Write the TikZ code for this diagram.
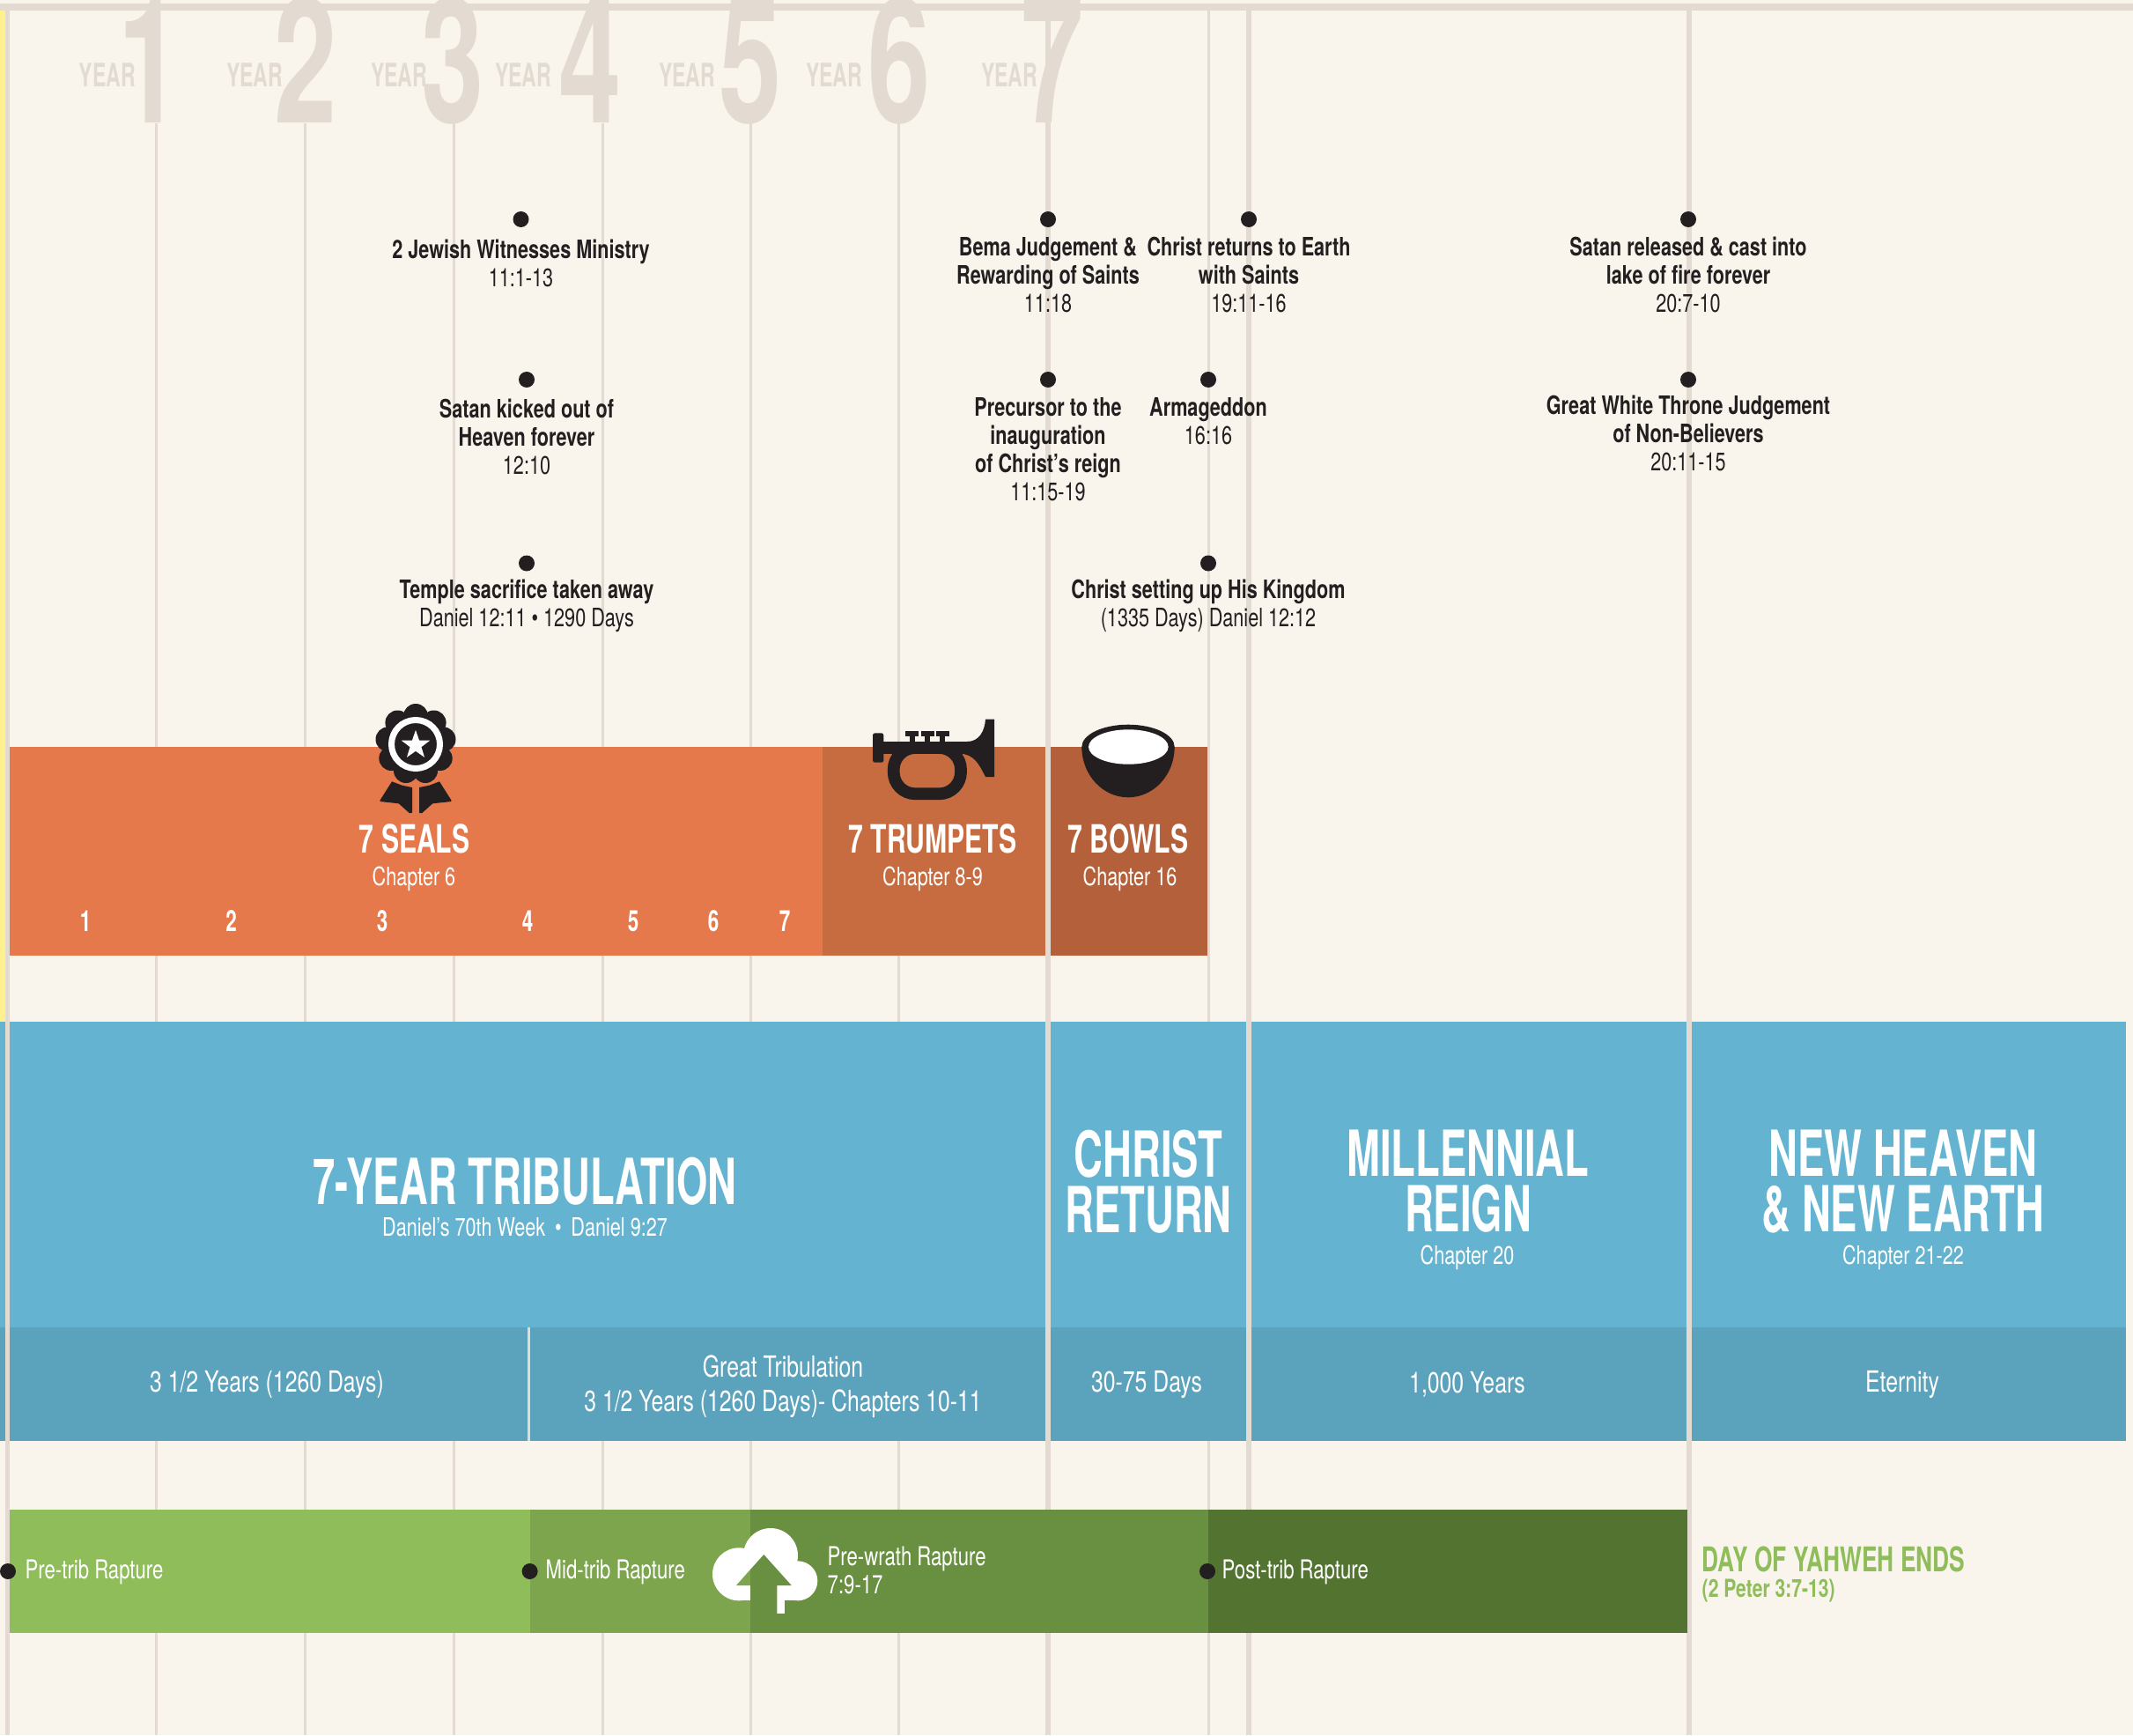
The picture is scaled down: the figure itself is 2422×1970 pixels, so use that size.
\documentclass[tikz,border=0pt]{standalone}
\usepackage{fontspec}
\setmainfont[FakeStretch=0.75]{TeX Gyre Heros}
\newfontfamily\bignum[FakeStretch=0.65]{TeX Gyre Heros}
\newfontfamily\condbig[FakeStretch=0.63]{TeX Gyre Heros}
\newfontfamily\condmid[FakeStretch=0.68]{TeX Gyre Heros}
\usetikzlibrary{shapes.geometric}

\definecolor{paper}{HTML}{F9F5ED}
\definecolor{rule}{HTML}{E3DBD1}
\definecolor{ink}{HTML}{231F20}
\definecolor{sunny}{HTML}{FFF18F}
\definecolor{sealorange}{HTML}{E5794C}
\definecolor{trumporange}{HTML}{C76C40}
\definecolor{bowlorange}{HTML}{B4603A}
\definecolor{skyblue}{HTML}{64B3D1}
\definecolor{deepblue}{HTML}{5BA2BC}
\definecolor{greenA}{HTML}{8FBD5A}
\definecolor{greenB}{HTML}{7CA54D}
\definecolor{greenC}{HTML}{698F40}
\definecolor{greenD}{HTML}{537430}

\tikzset{
    yearword/.style={text=rule, inner sep=0pt, font=\fontsize{10.4}{12}\condbig\bfseries},
    yearnum/.style={text=rule, inner sep=0pt, anchor=base, font=\fontsize{56}{60}\bignum\bfseries},
    thinline/.style={rule, line width=3*0.2845pt},
    thickline/.style={rule, line width=5.5*0.2845pt},
    evdot/.style={circle, fill=ink, inner sep=0pt, minimum size=18*0.2845pt},
    evtext/.style={text=ink, anchor=north, align=center, inner sep=0pt,
        font=\fontsize{8.2}{9.1}\selectfont},
    bartitle/.style={text=white, inner sep=0pt, font=\fontsize{12.6}{14}\condmid\bfseries},
    barsub/.style={text=white, inner sep=0pt, font=\fontsize{8.2}{9.1}\selectfont},
    sealnum/.style={text=white, inner sep=0pt, font=\fontsize{9.4}{10}\condmid\bfseries},
    bigtitle/.style={text=white, inner sep=0pt, align=center, font=\fontsize{20.5}{17.9}\condbig\bfseries},
    rowtext/.style={text=white, inner sep=0pt, align=center, font=\fontsize{9.4}{11.1}\selectfont},
    raptext/.style={text=white, inner sep=0pt, anchor=west, align=left, font=\fontsize{8.4}{9.3}\selectfont}
}

\begin{document}
\begin{tikzpicture}[x=0.01cm, y=-0.01cm]
            \useasboundingbox (0, 0) rectangle (2422, 1970);
            \fill[paper] (0, 0) rectangle (2422, 1970);
            \fill[sunny] (0, 12) rectangle (6, 1160);

            % Year words and numerals
            \node (W1) at (122, 85) [yearword] {YEAR};
            \node (W2) at (289, 85) [yearword] {YEAR};
            \node (W3) at (453, 85) [yearword] {YEAR};
            \node (W4) at (594, 85) [yearword] {YEAR};
            \node (W5) at (780, 85) [yearword] {YEAR};
            \node (W6) at (947, 85) [yearword] {YEAR};
            \node (W7) at (1146, 85) [yearword] {YEAR};
            \node (N1) at (170, 140) [yearnum] {1};
            \node (N2) at (347, 140) [yearnum] {2};
            \node (N3) at (514, 140) [yearnum] {3};
            \node (N4) at (670, 140) [yearnum] {4};
            \node (N5) at (852, 140) [yearnum] {5};
            \node (N6) at (1021, 140) [yearnum] {6};
            \node (N7) at (1195, 140) [yearnum] {7};

            % Year lines
            \draw[thinline] (177.5, 140) -- (177.5, 1970);
            \draw[thinline] (346, 140) -- (346, 1970);
            \draw[thinline] (515, 140) -- (515, 1970);
            \draw[thinline] (684, 140) -- (684, 1970);
            \draw[thinline] (852.5, 140) -- (852.5, 1970);
            \draw[thinline] (1020, 140) -- (1020, 1970);
            \draw[thinline] (1372, 12) -- (1372, 1970);

            % Top rule
            \fill[rule] (0, 4) rectangle (2422, 12);

            % Events on the left
            \node (E1) at (591.5, 249) [evdot] {};
            \node (T1) at (591.5, 271.5) [evtext] {\textbf{2 Jewish Witnesses Ministry}\\11:1-13};
            \node (E2) at (598, 431) [evdot] {};
            \node (T2) at (598, 452.5) [evtext] {\textbf{Satan kicked out of}\\\textbf{Heaven forever}\\12:10};
            \node (E3) at (598, 639.5) [evdot] {};
            \node (T3) at (598, 657.5) [evtext] {\textbf{Temple sacrifice taken away}\\Daniel 12:11 • 1290 Days};

            % Bars of seals, trumpets and bowls
            \fill[sealorange] (11, 848) rectangle (934, 1085);
            \fill[trumporange] (934, 848) rectangle (1187, 1085);
            \fill[bowlorange] (1193, 848) rectangle (1371, 1085);

            % Blue blocks
            \fill[skyblue] (0, 1160) rectangle (2414, 1507);
            \fill[deepblue] (0, 1507) rectangle (2414, 1636);

            % Thick lines
            \draw[thickline] (8.7, 12) -- (8.7, 1970);
            \draw[thickline, line width=6*0.2845pt] (1190, 12) -- (1190, 1714);
            \draw[thickline] (1190, 1854) -- (1190, 1970);
            \draw[thickline] (1418, 12) -- (1418, 1714);
            \draw[thickline] (1418, 1854) -- (1418, 1970);
            \draw[thickline] (1918, 12) -- (1918, 1970);
            \draw[thinline] (600, 1507) -- (600, 1636);

            % Events on the right
            \node (E4) at (1190, 249) [evdot] {};
            \node (T4) at (1190, 268.5) [evtext] {\textbf{Bema Judgement \&}\\\textbf{Rewarding of Saints}\\11:18};
            \node (E5) at (1418, 249) [evdot] {};
            \node (T5) at (1418, 268.5) [evtext] {\textbf{Christ returns to Earth}\\\textbf{with Saints}\\19:11-16};
            \node (E6) at (1190, 431) [evdot] {};
            \node (T6) at (1190, 451) [evtext] {\textbf{Precursor to the}\\\textbf{inauguration}\\\textbf{of Christ’s reign}\\11:15-19};
            \node (E7) at (1372, 431) [evdot] {};
            \node (T7) at (1372, 451) [evtext] {\textbf{Armageddon}\\16:16};
            \node (E8) at (1372, 639.5) [evdot] {};
            \node (T8) at (1372, 657.5) [evtext] {\textbf{Christ setting up His Kingdom}\\(1335 Days) Daniel 12:12};
            \node (E9) at (1917, 249) [evdot] {};
            \node (T9) at (1917, 268.5) [evtext] {\textbf{Satan released \& cast into}\\\textbf{lake of fire forever}\\20:7-10};
            \node (E10) at (1917, 431) [evdot] {};
            \node (T10) at (1917, 448.5) [evtext] {\textbf{Great White Throne Judgement}\\\textbf{of Non-Believers}\\20:11-15};

            % Seal icon
            \fill[ink] (472, 845) circle (34);
            \fill[ink] (472, 813) circle (14);
            \fill[ink] (492.6, 820.5) circle (14);
            \fill[ink] (503.5, 839.4) circle (14);
            \fill[ink] (499.7, 861) circle (14);
            \fill[ink] (483, 875) circle (14);
            \fill[ink] (461, 875) circle (14);
            \fill[ink] (444.3, 861) circle (14);
            \fill[ink] (440.5, 839.4) circle (14);
            \fill[ink] (451.4, 820.5) circle (14);
            \draw[white, line width=7*0.2845pt] (472, 845) circle (27.5);
            \node (S0) at (472, 846) [star, star points=5, star point ratio=2.5, fill=white, inner sep=0pt, minimum size=34*0.2845pt] {};
            \fill[ink] (431.7, 908.3) -- (445, 887.3) -- (456.5, 891.7) -- (468, 894) -- (468, 922.7) -- (465, 923.3) -- (452.7, 912.3) -- (431.7, 910) -- cycle;
            \fill[ink] (512.3, 908.3) -- (499, 887.3) -- (487.5, 891.7) -- (476, 894) -- (476, 922.7) -- (479, 923.3) -- (491.3, 912.3) -- (512.3, 910) -- cycle;

            % Trumpet icon
            \fill[ink, rounded corners=0.7pt] (991, 832.3) rectangle (1003.3, 865.7);
            \fill[ink] (1003, 842) rectangle (1100, 855.7);
            \fill[ink] (1028, 830) rectangle (1043.3, 835.7);
            \fill[ink] (1046, 830) rectangle (1061.3, 835.7);
            \fill[ink] (1062.7, 830) rectangle (1078, 835.7);
            \fill[ink] (1032.7, 835) rectangle (1038.7, 843);
            \fill[ink] (1050, 835) rectangle (1056, 843);
            \fill[ink] (1066.7, 835) rectangle (1072.7, 843);
            \fill[ink] (1098, 842) .. controls (1112, 842) and (1118, 830) .. (1119, 816.7) -- (1129, 816.7) -- (1129, 882) -- (1119, 882) .. controls (1112, 868) and (1106, 856) .. (1090, 855.7) -- cycle;
            \draw[ink, line width=13.7*0.2845pt, rounded corners=7pt] (1014.7, 849) rectangle (1091, 901.3);

            % Bowl icon
            \fill[ink] (1228.3, 848) arc[start angle=180, end angle=0, x radius=52.7, y radius=57.3] -- cycle;
            \fill[ink] (1281, 848) ellipse [x radius=52.7, y radius=25.3];
            \fill[white] (1281.3, 848) ellipse [x radius=45.3, y radius=19.7];

            % Bar labels
            \node (L1) at (470.7, 952) [bartitle] {7 SEALS};
            \node (C1) at (470, 998) [barsub] {Chapter 6};
            \node (L2) at (1059, 952) [bartitle] {7 TRUMPETS};
            \node (C2) at (1059, 998) [barsub] {Chapter 8-9};
            \node (L3) at (1281, 952) [bartitle] {7 BOWLS};
            \node (C3) at (1283, 998) [barsub] {Chapter 16};
            \node (M1) at (97, 1046) [sealnum] {1};
            \node (M2) at (262.6, 1046) [sealnum] {2};
            \node (M3) at (434, 1046) [sealnum] {3};
            \node (M4) at (599, 1046) [sealnum] {4};
            \node (M5) at (719, 1046) [sealnum] {5};
            \node (M6) at (810, 1046) [sealnum] {6};
            \node (M7) at (891, 1046) [sealnum] {7};

            % Blue labels
            \node (B1) at (596, 1341) [bigtitle] {7-YEAR TRIBULATION};
            \node (B1s) at (596, 1393) [barsub] {Daniel’s 70th Week \,•\, Daniel 9:27};
            \node (B2) at (1304, 1341.5) [bigtitle] {CHRIST\\RETURN};
            \node (B3) at (1667, 1341.5) [bigtitle] {MILLENNIAL\\REIGN};
            \node (B3s) at (1666, 1428) [barsub] {Chapter 20};
            \node (B4) at (2161, 1341.5) [bigtitle] {NEW HEAVEN\\\& NEW EARTH};
            \node (B4s) at (2161, 1428) [barsub] {Chapter 21-22};

            % Dark blue row
            \node (R1) at (303, 1572) [rowtext] {3 1/2 Years (1260 Days)};
            \node (R2) at (889, 1574) [rowtext] {Great Tribulation\\3 1/2 Years (1260 Days)- Chapters 10-11};
            \node (R3) at (1302, 1572) [rowtext] {30-75 Days};
            \node (R4) at (1666, 1572) [rowtext] {1,000 Years};
            \node (R5) at (2160, 1572) [rowtext] {Eternity};

            % Rapture bar
            \fill[greenA] (11, 1714) rectangle (602, 1854);
            \fill[greenB] (602, 1714) rectangle (852, 1854);
            \fill[greenC] (852, 1714) rectangle (1372, 1854);
            \fill[greenD] (1372, 1714) rectangle (1916, 1854);

            % Cloud icon
            \fill[white] (875, 1766) circle (31);
            \fill[white] (839, 1787.3) circle (30);
            \fill[white] (905.8, 1794.8) circle (22.5);
            \fill[white] (839, 1790) rectangle (905.8, 1817.3);
            \fill[white] (882.3, 1800) rectangle (890.7, 1831.7);
            \fill[greenB] (852, 1782) -- (836, 1800) -- (852, 1800) -- cycle;
            \fill[greenC] (852, 1782) -- (867.3, 1765) -- (898.7, 1800) -- (882.3, 1800) -- (882.3, 1832) -- (852, 1832) -- cycle;

            % Rapture points
            \node (P1) at (9, 1784) [evdot] {};
            \node (Q1) at (28, 1785) [raptext] {Pre-trib Rapture};
            \node (P2) at (601.6, 1784) [evdot] {};
            \node (Q2) at (619, 1785) [raptext] {Mid-trib Rapture};
            \node (Q3) at (939, 1783) [raptext] {Pre-wrath Rapture\\7:9-17};
            \node (P4) at (1371, 1784) [evdot] {};
            \node (Q4) at (1387, 1785) [raptext] {Post-trib Rapture};

            % End of the day
            \node (D1) at (1932, 1770) [anchor=west, inner sep=0pt, text=greenA, font=\fontsize{11}{12}\condmid\bfseries] {DAY OF YAHWEH ENDS};
            \node (D2) at (1932, 1806) [anchor=west, inner sep=0pt, text=greenA, font=\fontsize{8}{9}\selectfont\bfseries] {(2 Peter 3:7-13)};
        \end{tikzpicture}
\end{document}
